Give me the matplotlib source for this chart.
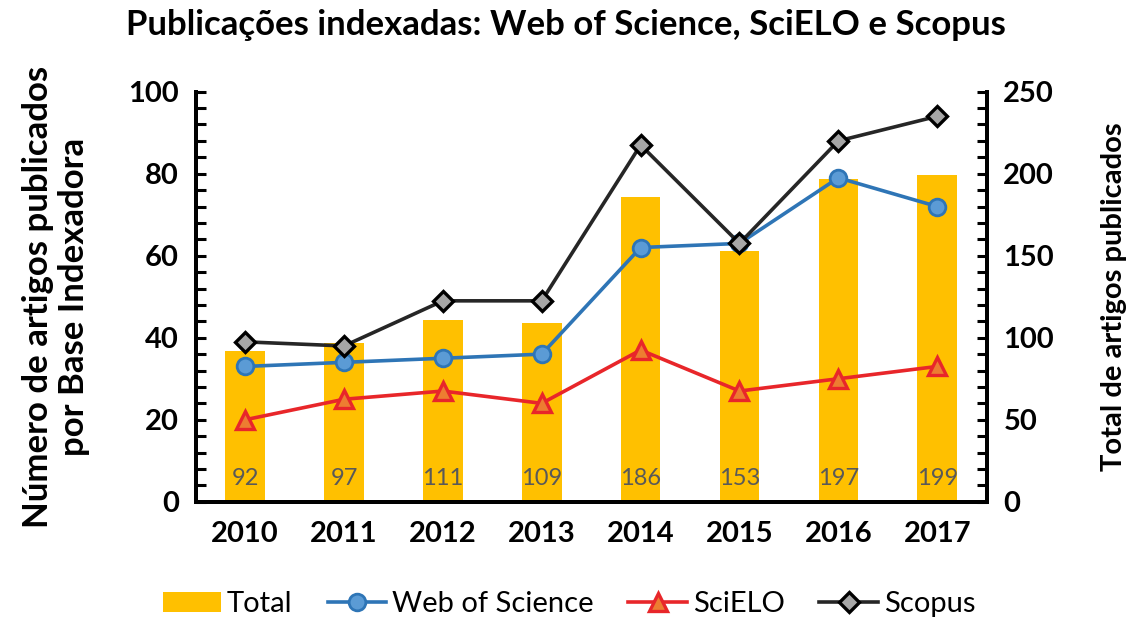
#! /usr/bin/env python3
"""Publicações indexadas: Web of Science, SciELO e Scopus (2010-2017)."""

import matplotlib
matplotlib.use("Agg")
import matplotlib.pyplot as plt
from matplotlib.ticker import MultipleLocator

plt.rcParams["font.family"] = ["Lato", "DejaVu Sans"]

# data
years = ["2010", "2011", "2012", "2013", "2014", "2015", "2016", "2017"]
total = [92, 97, 111, 109, 186, 153, 197, 199]
web_of_science = [33, 34, 35, 36, 62, 63, 79, 72]
scielo = [20, 25, 27, 24, 37, 27, 30, 33]
scopus = [39, 38, 49, 49, 87, 63, 88, 94]

x = list(range(len(years)))

fig = plt.figure(figsize=(11.38, 6.28), dpi=100)
ax = fig.add_axes([0.172, 0.201, 0.695, 0.653])
ax2 = ax.twinx()

# bars go on the secondary axis, behind the lines
bars = ax2.bar(x, total, width=0.4, color="#FFC000", label="Total")
for xi, v in zip(x, total):
    ax2.text(xi, 14, str(v), ha="center", va="center", fontsize=17, color="#595959")

ax.set_zorder(ax2.get_zorder() + 1)
ax.patch.set_visible(False)

l1, = ax.plot(x, web_of_science, color="#2E75B6", lw=2.6, marker="o", ms=12,
              mfc="#5B9BD5", mec="#2E75B6", mew=2, label="Web of Science")
l2, = ax.plot(x, scielo, color="#E8262A", lw=2.6, marker="^", ms=13,
              mfc="#ED7D31", mec="#E8262A", mew=2.4, label="SciELO")
l3, = ax.plot(x, scopus, color="#262626", lw=2.6, marker="D", ms=10,
              mfc="#A6A6A6", mec="#000000", mew=2.4, label="Scopus")

ax.set_xlim(-0.5, 7.5)
ax.set_ylim(0, 100)
ax2.set_ylim(0, 250)
ax.set_xticks(x)
ax.set_xticklabels(years)

ax.yaxis.set_major_locator(MultipleLocator(20))
ax.yaxis.set_minor_locator(MultipleLocator(4))
ax2.yaxis.set_major_locator(MultipleLocator(50))
ax2.yaxis.set_minor_locator(MultipleLocator(10))

for a in (ax, ax2):
    a.spines["top"].set_visible(False)
    for s in ("left", "right", "bottom"):
        a.spines[s].set_linewidth(2.8)
        a.spines[s].set_color("black")
    a.tick_params(axis="y", which="both", direction="in", length=7, width=2.2)
    a.tick_params(axis="y", which="major", labelsize=21, pad=12)
    a.tick_params(axis="x", length=0, labelsize=21, pad=14)
    for lab in a.get_yticklabels() + a.get_xticklabels():
        lab.set_fontweight("bold")

ax.set_ylabel("Número de artigos publicados\npor Base Indexadora",
              fontsize=25, fontweight="bold", labelpad=28, linespacing=1.15)
ax2.set_ylabel("Total de artigos publicados", fontsize=21, fontweight="bold",
               labelpad=34)

fig.suptitle("Publicações indexadas: Web of Science, SciELO e Scopus",
             x=0.497, y=0.985, fontsize=25, fontweight="bold")

fig.legend([bars, l1, l2, l3], ["Total", "Web of Science", "SciELO", "Scopus"],
           loc="lower center", bbox_to_anchor=(0.5, -0.025), ncol=4,
           frameon=False, fontsize=21, handlelength=2.0, handletextpad=0.2,
           columnspacing=1.2)

fig.savefig("out.png", dpi=100)
